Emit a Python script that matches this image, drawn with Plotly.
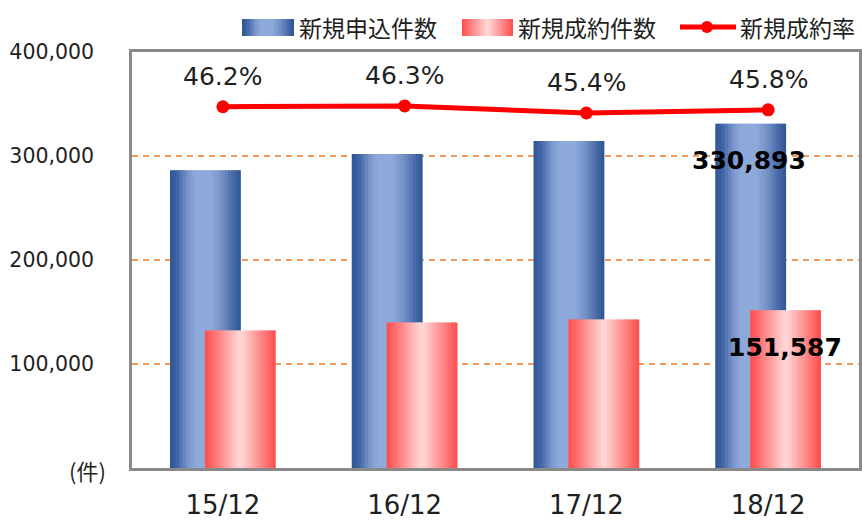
import plotly.graph_objects as go

# データ
categories = ['15/12', '16/12', '17/12', '18/12']
applications = [286300, 301900, 314400, 330893]   # 新規申込件数
contracts = [132300, 139800, 142700, 151587]      # 新規成約件数
contract_rate = [46.2, 46.3, 45.4, 45.8]          # 新規成約率 (%)
ytick_vals = [100000, 200000, 300000, 400000]
ytick_text = ['100,000', '200,000', '300,000', '400,000']

NUM_FONT = 'DejaVu Sans'
JP_FONT = 'Noto Sans CJK JP'
TXT = '#1f1f1f'

blue_stops = [(0.00, '#2e5596'), (0.10, '#3f64a4'), (0.25, '#7894ca'), (0.36, '#8eaadb'),
              (0.58, '#8eaadb'), (0.72, '#7692c8'), (0.88, '#4c6ca9'), (1.00, '#2c5394')]
red_stops = [(0.00, '#ff4b4b'), (0.20, '#ff8585'), (0.50, '#ffdada'), (0.80, '#ff8585'), (1.00, '#ff4b4b')]


def hex2rgb(h):
    h = h.lstrip('#')
    return [int(h[i:i + 2], 16) for i in (0, 2, 4)]


def grad(stops, t):
    for (p0, c0), (p1, c1) in zip(stops[:-1], stops[1:]):
        if p0 <= t <= p1:
            f = (t - p0) / (p1 - p0) if p1 > p0 else 0
            a, b = hex2rgb(c0), hex2rgb(c1)
            return 'rgb(%d,%d,%d)' % tuple(round(a[k] + (b[k] - a[k]) * f) for k in range(3))
    return stops[-1][1]


N = 22
BAR_W = 0.39


def gradient_bars(fig, values, offset, stops, name):
    step = BAR_W / N
    for i in range(N):
        t = (i + 0.5) / N
        fig.add_trace(go.Bar(
            x=categories, y=values, name=name, showlegend=False,
            offset=offset + i * step, width=step * 1.6 if i < N - 1 else step,
            marker=dict(color=grad(stops, t), line=dict(width=0)),
            hoverinfo='skip' if i else 'y',
        ))


fig = go.Figure()
gradient_bars(fig, applications, -0.291, blue_stops, '新規申込件数')
gradient_bars(fig, contracts, -0.099, red_stops, '新規成約件数')
fig.add_trace(go.Scatter(
    x=categories, y=contract_rate, name='新規成約率', yaxis='y2', mode='lines+markers',
    line=dict(color='#ff0000', width=5), marker=dict(color='#ff0000', size=13), showlegend=False,
))

# 率のラベル
annotations = []
for c, r in zip(categories, contract_rate):
    annotations.append(dict(x=c, y=r, yref='y2', text=f'{r:.1f}%', showarrow=False,
                            yshift=30, font=dict(family=NUM_FONT, size=25, color=TXT)))
# 18/12 の値ラベル
annotations.append(dict(x=categories[-1], y=applications[-1], text=f'{applications[-1]:,}', showarrow=False,
                        xshift=-19, yshift=-37, font=dict(family=NUM_FONT, size=25, color='#000000', weight='bold')))
annotations.append(dict(x=categories[-1], y=contracts[-1], text=f'{contracts[-1]:,}', showarrow=False,
                        xshift=17, yshift=-37, font=dict(family=NUM_FONT, size=25, color='#000000', weight='bold')))

# 画素 -> paper 座標
L, R, T, B = 132, 859, 52, 468


def px(x):
    return (x - L) / (R - L)


def py(y):
    return (B - y) / (B - T)


annotations.append(dict(x=px(108), y=py(470), xref='paper', yref='paper', xanchor='right', yanchor='middle',
                        text='(件)', showarrow=False, font=dict(family=JP_FONT, size=22, color=TXT)))

# 凡例 (手作り)
shapes = []
for x0, x1, stops in [(242, 294, blue_stops), (462, 513, red_stops)]:
    n = 20
    w = (x1 - x0) / n
    for i in range(n):
        shapes.append(dict(type='rect', xref='paper', yref='paper',
                           x0=px(x0 + i * w), x1=px(x0 + (i + 1) * w + (0.6 if i < n - 1 else 0)),
                           y0=py(36), y1=py(19), line=dict(width=0),
                           fillcolor=grad(stops, (i + 0.5) / n), layer='above'))
shapes.append(dict(type='line', xref='paper', yref='paper', x0=px(680), x1=px(736), y0=py(27), y1=py(27),
                   line=dict(color='#ff0000', width=5)))
shapes.append(dict(type='circle', xref='paper', yref='paper', x0=px(701), x1=px(713), y0=py(33), y1=py(21),
                   fillcolor='#ff0000', line=dict(width=0)))
for x, t in [(297, '新規申込件数'), (516, '新規成約件数'), (738, '新規成約率')]:
    annotations.append(dict(x=px(x), y=py(27), xref='paper', yref='paper', xanchor='left', yanchor='middle',
                            text=t, showarrow=False, font=dict(family=JP_FONT, size=23, color=TXT)))

border = dict(showline=True, linecolor='#8a8a8a', linewidth=2.5)

fig.update_layout(
    width=862, height=521,
    margin=dict(l=L, r=862 - R, t=T, b=521 - B, autoexpand=False),
    plot_bgcolor='white', paper_bgcolor='white',
    barmode='overlay', showlegend=False,
    xaxis=dict(type='category', categoryarray=categories, range=[-0.5, 3.5], mirror=True, ticks='',
               tickfont=dict(family=NUM_FONT, size=26, color=TXT), ticklabelstandoff=12, **border),
    yaxis=dict(range=[0, 400000], tickvals=ytick_vals, ticktext=ytick_text, mirror=True, zeroline=False,
               showgrid=True, gridcolor='#f29a5c', griddash='6px,5px', gridwidth=1.5, ticks='',
               ticklabelstandoff=31, tickfont=dict(family=NUM_FONT, size=20.5, color=TXT), **border),
    yaxis2=dict(overlaying='y', side='right', range=[0, 53.2], dtick=10, showgrid=False, zeroline=False,
                ticks='outside', ticklen=5, tickwidth=2, tickcolor='#8a8a8a', showticklabels=False, **border),
    annotations=annotations,
    shapes=shapes,
)
# ページ既定の余白を消す
fig.write_html("out.html", config={'displayModeBar': False},
               post_script="document.body.style.margin='0';")
